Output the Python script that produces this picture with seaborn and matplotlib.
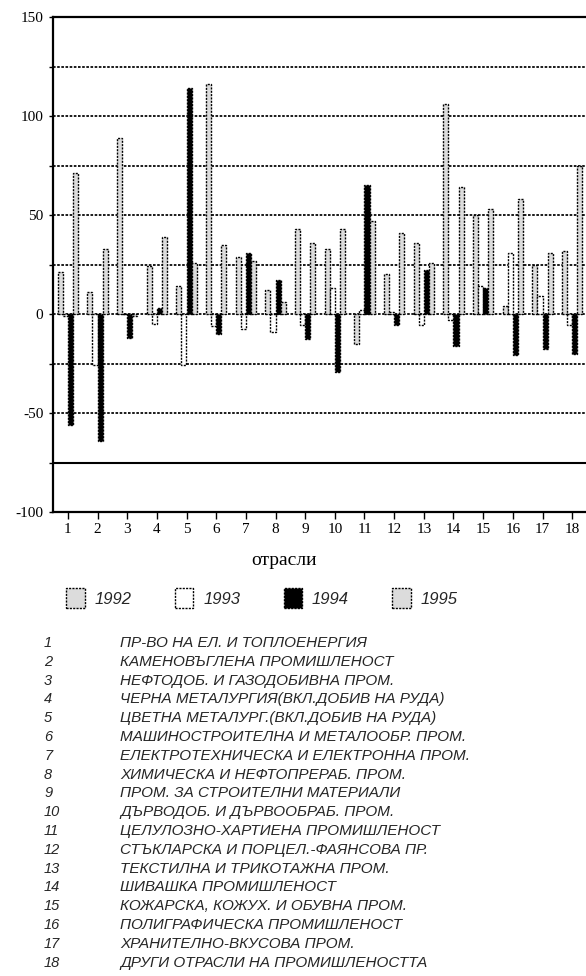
import numpy as np
import pandas as pd
import matplotlib
matplotlib.use("Agg")
import matplotlib.pyplot as plt
from matplotlib.patches import Patch
import seaborn as sns

# Industry branch numbers and the yearly series (% change)
branches = list(range(1, 19))
years = ["1992", "1993", "1994", "1995"]
v1992 = [21, 11, 89, 24, 14, 116, 29, 12, 43, 33, -15, 20, 36, 106, 50, 4, 25, 32]
v1993 = [-1, -26, 0, -5, -26, -6, -7.5, -9, -5.5, 13, 2, 1, -5.5, -3, 14, 31, 9, -5.5]
v1994 = [-56, -64, -12, 3, 114, -10, 31, 17, -12.5, -29.5, 65, -5.5, 22, -16, 13, -20.5, -17.5, -20]
v1995 = [71, 33, -1, 39, 26, 35, 27, 6, 36, 43, 47, 41, 26, 64, 53, 58, 31, 75]

branch_names = [
    "ПР-ВО НА ЕЛ. И ТОПЛОЕНЕРГИЯ",
    "КАМЕНОВЪГЛЕНА ПРОМИШЛЕНОСТ",
    "НЕФТОДОБ. И ГАЗОДОБИВНА ПРОМ.",
    "ЧЕРНА МЕТАЛУРГИЯ(ВКЛ.ДОБИВ НА РУДА)",
    "ЦВЕТНА МЕТАЛУРГ.(ВКЛ.ДОБИВ НА РУДА)",
    "МАШИНОСТРОИТЕЛНА И МЕТАЛООБР. ПРОМ.",
    "ЕЛЕКТРОТЕХНИЧЕСКА И ЕЛЕКТРОННА ПРОМ.",
    "ХИМИЧЕСКА И НЕФТОПРЕРАБ. ПРОМ.",
    "ПРОМ. ЗА СТРОИТЕЛНИ МАТЕРИАЛИ",
    "ДЪРВОДОБ. И ДЪРВООБРАБ. ПРОМ.",
    "ЦЕЛУЛОЗНО-ХАРТИЕНА ПРОМИШЛЕНОСТ",
    "СТЪКЛАРСКА И ПОРЦЕЛ.-ФАЯНСОВА ПР.",
    "ТЕКСТИЛНА И ТРИКОТАЖНА ПРОМ.",
    "ШИВАШКА ПРОМИШЛЕНОСТ",
    "КОЖАРСКА, КОЖУХ. И ОБУВНА ПРОМ.",
    "ПОЛИГРАФИЧЕСКА ПРОМИШЛЕНОСТ",
    "ХРАНИТЕЛНО-ВКУСОВА ПРОМ.",
    "ДРУГИ ОТРАСЛИ НА ПРОМИШЛЕНОСТТА",
]

year_colors = {"1992": "#dcdcdc", "1993": "#ffffff", "1994": "#000000", "1995": "#dcdcdc"}

series = {"1992": v1992, "1993": v1993, "1994": v1994, "1995": v1995}
df = pd.DataFrame(
    [(b, y, v) for y in years for b, v in zip(branches, series[y])],
    columns=["branch", "year", "value"],
)

sns.set_theme(style="white")
plt.rcParams["font.family"] = ["Liberation Serif", "DejaVu Serif"]

W, H = 586, 976
fig = plt.figure(figsize=(W / 100, H / 100), dpi=100)
ax = fig.add_axes([53 / W, 1 - 512 / H, 534 / W, 495 / H])

dash = (0, (1.5, 0.9))
sns.barplot(
    data=df, x="branch", y="value", hue="year", hue_order=years,
    palette=year_colors, width=0.68, gap=0, errorbar=None,
    edgecolor="black", linewidth=1.0, legend=False, ax=ax, zorder=3,
)
for p in ax.patches:
    p.set_linestyle(dash)

ax.set_xlim(-0.5, 17.5)
ax.set_ylim(-100, 150)
yt = np.arange(-100, 151, 25)
ax.set_yticks(yt)
ax.set_yticklabels([str(v) if v % 50 == 0 else "" for v in yt])
ax.set_xticks(range(len(branches)))
ax.set_xticklabels([str(b) for b in branches])

ax.grid(axis="y", color="black", linestyle=dash, linewidth=1.25)
ax.grid(axis="x", visible=False)
ax.set_axisbelow(True)
ax.axhline(-75, color="black", linewidth=1.5, zorder=2)

for side in ["left", "bottom", "top"]:
    ax.spines[side].set_visible(True)
    ax.spines[side].set_color("black")
    ax.spines[side].set_linewidth(1.6)
ax.spines["right"].set_visible(False)

ax.tick_params(axis="both", which="both", direction="out", color="black",
               labelcolor="black")
ax.tick_params(axis="y", length=3, width=1, pad=4, left=True, labelsize=11)
ax.tick_params(axis="x", length=5, width=1, pad=3, bottom=True, labelsize=11)

ax.set_ylabel("")
ax.set_xlabel("отрасли", fontsize=14, color="black")
ax.xaxis.set_label_coords(231 / 534, -40 / 495)

# Legend
handles = [Patch(facecolor=year_colors[y], edgecolor="black", linestyle=dash, linewidth=1.0)
           for y in years]
fig.legend(handles=handles, labels=years, ncol=4, loc="center",
           bbox_to_anchor=(262 / W, 1 - 598 / H), frameon=False,
           prop={"family": "Liberation Sans", "style": "italic", "size": 12},
           handlelength=1.1, handleheight=1.4, handletextpad=0.6, columnspacing=2.6)

# Branch key
for i, (n, name) in enumerate(zip(branches, branch_names)):
    yy = 1 - (643 + i * 18.8) / H
    fig.text(44 / W, yy, str(n), ha="left", va="center", style="italic",
             family="Liberation Sans", fontsize=10.5)
    fig.text(120 / W, yy, name, ha="left", va="center", style="italic",
             family="Liberation Sans", fontsize=11)

fig.savefig("out.png", dpi=100)
